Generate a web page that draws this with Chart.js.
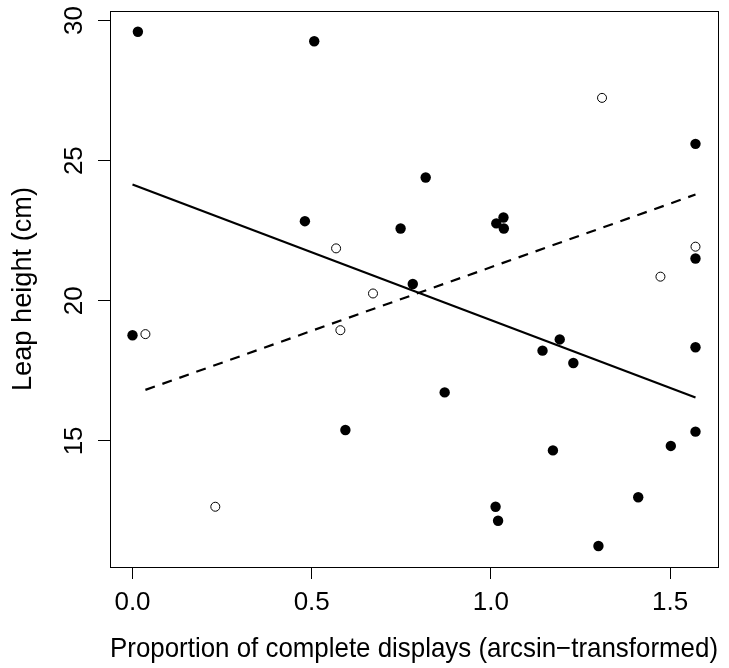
<!DOCTYPE html>
<html>
<head>
<meta charset="utf-8">
<script src="https://cdn.jsdelivr.net/npm/chart.js@4/dist/chart.umd.min.js"></script>
<style>
  html, body { margin: 0; padding: 0; background: #ffffff; }
  #wrap { width: 729px; height: 668px; }
</style>
</head>
<body>
<div id="wrap"><canvas id="leapChart"></canvas></div>
<script>
// ===============================
// LEAP HEIGHT vs COMPLETE DISPLAYS
// ===============================

// filled circles
const filledX = [0.015, 0.000, 0.507, 0.481, 0.748, 0.818, 0.782, 0.871, 0.594,
                 1.015, 1.035, 1.036, 1.013, 1.020, 1.144, 1.192, 1.230, 1.173,
                 1.300, 1.411, 1.502, 1.5708, 1.5708, 1.5708, 1.5708];
const filledY = [29.60, 18.77, 29.26, 22.84, 22.58, 24.40, 20.60, 16.73, 15.39,
                 22.76, 22.97, 22.58, 12.65, 12.15, 18.22, 18.62, 17.78, 14.66,
                 11.25, 12.99, 14.82, 25.60, 21.51, 18.34, 15.33];

// open circles
const openX = [0.036, 0.231, 0.568, 0.580, 0.671, 1.310, 1.473, 1.5708];
const openY = [18.81, 12.65, 21.87, 18.95, 20.26, 27.24, 20.86, 21.93];

// fitted lines (end points)
const solidLineX = [0.000, 1.5708];
const solidLineY = [24.15, 16.55];
const dashedLineX = [0.036, 1.5708];
const dashedLineY = [16.82, 23.79];

const xTicks = [0, 0.5, 1.0, 1.5];
const yTicks = [15, 20, 25, 30];

const xTitle = "Proportion of complete displays (arcsin\u2212transformed)";
const yTitle = "Leap height (cm)";

const FONT = "'Liberation Sans', Arial, Helvetica, sans-serif";

function pts(xs, ys) {
    return xs.map((x, i) => ({ x: x, y: ys[i] }));
}

// box round the plot area + rotated y tick labels
const frame = {
    id: "frame",
    afterDraw(chart) {
        const { ctx, chartArea: a } = chart;
        ctx.save();
        ctx.strokeStyle = "#000";
        ctx.lineWidth = 1;
        ctx.strokeRect(Math.round(a.left) + 0.5, Math.round(a.top) + 0.5,
                       Math.round(a.right - a.left), Math.round(a.bottom - a.top));

        const y = chart.scales.y;
        ctx.fillStyle = "#000";
        ctx.font = "26px " + FONT;
        ctx.textAlign = "center";
        ctx.textBaseline = "alphabetic";
        yTicks.forEach(v => {
            const py = y.getPixelForValue(v);
            ctx.save();
            ctx.translate(82, py);
            ctx.rotate(-Math.PI / 2);
            ctx.fillText(String(v), 0, 0);
            ctx.restore();
        });
        ctx.restore();
    }
};

new Chart(document.getElementById("leapChart"), {
    type: "scatter",
    data: {
        datasets: [
            {
                label: "filled",
                data: pts(filledX, filledY),
                pointRadius: 5.2,
                pointBackgroundColor: "#000",
                pointBorderColor: "#000",
                pointBorderWidth: 0,
                order: 2
            },
            {
                label: "open",
                data: pts(openX, openY),
                pointRadius: 4.5,
                pointBackgroundColor: "rgba(0,0,0,0)",
                pointBorderColor: "#000",
                pointBorderWidth: 1,
                order: 2
            },
            {
                type: "line",
                label: "solid fit",
                data: pts(solidLineX, solidLineY),
                borderColor: "#000",
                borderWidth: 2.2,
                pointRadius: 0,
                fill: false,
                order: 1
            },
            {
                type: "line",
                label: "dashed fit",
                data: pts(dashedLineX, dashedLineY),
                borderColor: "#000",
                borderWidth: 2.2,
                borderDash: [10, 8],
                pointRadius: 0,
                fill: false,
                order: 1
            }
        ]
    },
    options: {
        responsive: true,
        maintainAspectRatio: false,
        animation: false,
        layout: {
            padding: { left: 0, right: 11, top: 11, bottom: 0 }
        },
        plugins: {
            legend: { display: false },
            tooltip: { enabled: false }
        },
        scales: {
            x: {
                type: "linear",
                min: -0.0628,
                max: 1.6336,
                afterBuildTicks: s => { s.ticks = xTicks.map(v => ({ value: v })); },
                afterFit: s => { s.height = 101; },
                grid: {
                    drawOnChartArea: false,
                    tickLength: 12,
                    tickColor: "#000",
                    tickWidth: 1
                },
                border: { display: false },
                ticks: {
                    color: "#000",
                    padding: 8,
                    maxRotation: 0,
                    font: { family: FONT, size: 26 },
                    callback: v => v.toFixed(1)
                },
                title: {
                    display: true,
                    text: xTitle,
                    color: "#000",
                    font: { family: FONT, size: 27.2 },
                    padding: { top: 0, bottom: 2 }
                }
            },
            y: {
                type: "linear",
                min: 10.5,
                max: 30.34,
                afterBuildTicks: s => { s.ticks = yTicks.map(v => ({ value: v })); },
                afterFit: s => { s.width = 110; },
                grid: {
                    drawOnChartArea: false,
                    tickLength: 12,
                    tickColor: "#000",
                    tickWidth: 1
                },
                border: { display: false },
                ticks: {
                    display: false
                },
                title: {
                    display: true,
                    text: yTitle,
                    color: "#000",
                    font: { family: FONT, size: 27.2 },
                    padding: { top: 7.5, bottom: 0 }
                }
            }
        }
    },
    plugins: [frame]
});
</script>
</body>
</html>
